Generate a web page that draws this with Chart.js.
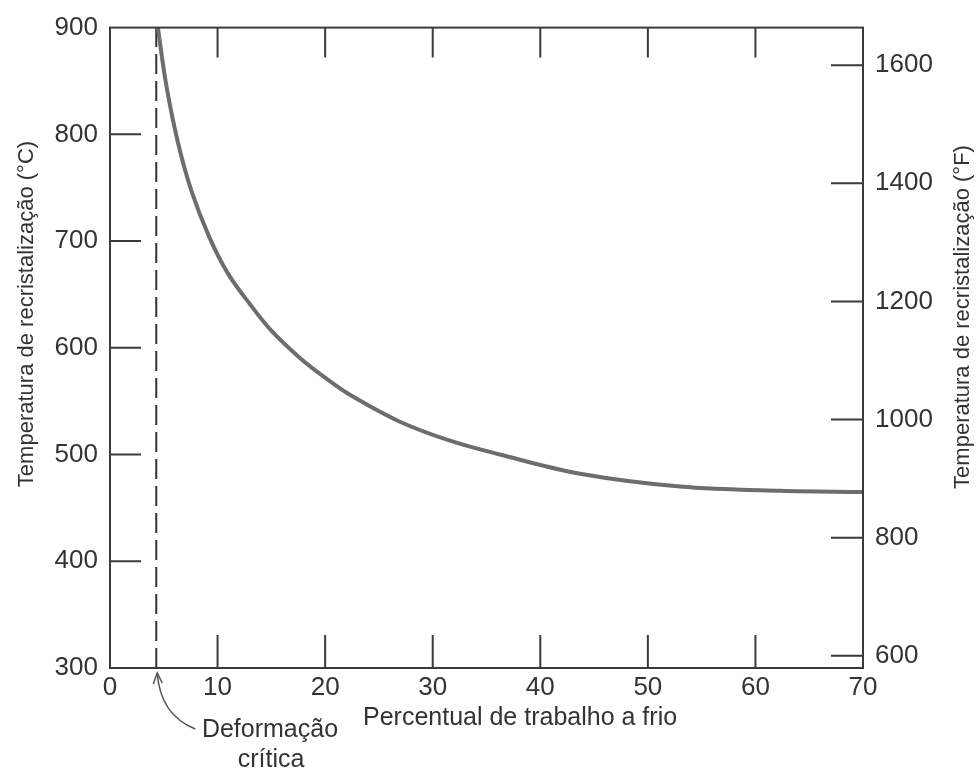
<!DOCTYPE html>
<html lang="pt">

<head>
    <meta charset="UTF-8">
    <title>Temperatura de recristalização</title>
    <script src="https://cdn.jsdelivr.net/npm/chart.js"></script>
    <style>
        body {
            margin: 0;
            background: #fff;
        }

        canvas {
            display: block;
        }
    </style>
</head>

<body>
    <canvas id="recrystChart" width="978" height="771"></canvas>

    <script>
        // values
        const strain = [4.45, 5.2, 6.3, 7.6, 9.26, 11, 13, 15, 17.6, 20, 22.3, 26.9, 31.6, 36.25, 43.7, 53, 62.3, 70];
        const tempC = [900, 848, 793, 746, 703, 669, 641, 616, 591, 572, 556, 531, 513, 500, 482, 470, 466, 465];
        const criticalStrain = 4.3;
        const xTicks = [0, 10, 20, 30, 40, 50, 60, 70];
        const cTicks = [300, 400, 500, 600, 700, 800, 900];
        const fTicks = [600, 800, 1000, 1200, 1400, 1600];

        const FONT = "'Liberation Sans', Arial, sans-serif";
        const INK = '#3a3a3a';

        const decorations = {
            id: 'decorations',
            afterDraw(chart) {
                const ctx = chart.ctx;
                const area = chart.chartArea;
                const x = chart.scales.x, y = chart.scales.y, y2 = chart.scales.y2;
                ctx.save();
                ctx.strokeStyle = INK;
                ctx.lineWidth = 2;
                // frame
                ctx.strokeRect(area.left, area.top, area.right - area.left, area.bottom - area.top);
                // inward ticks
                ctx.beginPath();
                xTicks.slice(1, -1).forEach(v => {
                    const px = x.getPixelForValue(v);
                    ctx.moveTo(px, area.bottom); ctx.lineTo(px, area.bottom - 33);
                    ctx.moveTo(px, area.top); ctx.lineTo(px, area.top + 30);
                });
                cTicks.slice(1, -1).forEach(v => {
                    const py = y.getPixelForValue(v);
                    ctx.moveTo(area.left, py); ctx.lineTo(area.left + 31, py);
                });
                fTicks.forEach(v => {
                    const py = y2.getPixelForValue(v);
                    ctx.moveTo(area.right, py); ctx.lineTo(area.right - 32, py);
                });
                ctx.stroke();

                // axis titles
                ctx.fillStyle = '#333';
                ctx.textBaseline = 'middle';
                ctx.font = '25px ' + FONT;
                ctx.textAlign = 'left';
                ctx.fillText('Percentual de trabalho a frio', 363, 718);

                ctx.font = '22px ' + FONT;
                ctx.textAlign = 'center';
                ctx.save();
                ctx.translate(27, 314);
                ctx.rotate(-Math.PI / 2);
                ctx.fillText('Temperatura de recristalização (°C)', 0, 0);
                ctx.restore();
                ctx.save();
                ctx.translate(963, 317);
                ctx.rotate(-Math.PI / 2);
                ctx.fillText('Temperatura de recristalização (°F)', 0, 0);
                ctx.restore();

                // critical strain note
                const tipX = x.getPixelForValue(criticalStrain) + 1;
                const tipY = area.bottom + 5;
                ctx.strokeStyle = '#555';
                ctx.lineWidth = 1.5;
                ctx.beginPath();
                ctx.moveTo(tipX, tipY);
                ctx.quadraticCurveTo(tipX + 3, tipY + 42, tipX + 38, tipY + 56);
                ctx.stroke();
                ctx.beginPath();
                ctx.moveTo(tipX - 4, tipY + 11);
                ctx.lineTo(tipX, tipY);
                ctx.lineTo(tipX + 5, tipY + 10);
                ctx.stroke();

                ctx.font = '25px ' + FONT;
                ctx.textAlign = 'center';
                ctx.fillText('Deformação', 270, 730);
                ctx.fillText('crítica', 271, 760);
                ctx.restore();
            }
        };

        const tickStyle = pad => ({
            padding: pad,
            color: '#333',
            font: { family: FONT, size: 26 },
            callback: v => String(v)
        });

        new Chart(document.getElementById('recrystChart'), {
            type: 'scatter',
            data: {
                datasets: [{
                    label: 'Temperatura de recristalização',
                    data: strain.map((s, i) => ({ x: s, y: tempC[i] })),
                    showLine: true,
                    borderColor: '#6d6d70',
                    borderWidth: 4,
                    pointRadius: 0,
                    tension: 0.35
                }, {
                    label: 'Deformação crítica',
                    data: [{ x: criticalStrain, y: cTicks[0] }, { x: criticalStrain, y: cTicks[cTicks.length - 1] }],
                    showLine: true,
                    borderColor: '#333',
                    borderWidth: 2,
                    borderDash: [20, 7],
                    pointRadius: 0
                }]
            },
            options: {
                responsive: false,
                animation: false,
                layout: { padding: { top: 25 } },
                plugins: {
                    legend: { display: false },
                    tooltip: { enabled: false }
                },
                scales: {
                    x: {
                        type: 'linear',
                        position: 'bottom',
                        min: 0,
                        max: 70,
                        afterFit: s => { s.height = 103; },
                        afterBuildTicks: s => { s.ticks = xTicks.map(v => ({ value: v })); },
                        grid: { drawOnChartArea: false, drawTicks: false },
                        border: { display: false },
                        ticks: tickStyle(4)
                    },
                    y: {
                        type: 'linear',
                        position: 'left',
                        min: 300,
                        max: 900,
                        afterFit: s => { s.width = 110; },
                        afterBuildTicks: s => { s.ticks = cTicks.map(v => ({ value: v })); },
                        grid: { drawOnChartArea: false, drawTicks: false },
                        border: { display: false },
                        ticks: tickStyle(12)
                    },
                    y2: {
                        type: 'linear',
                        position: 'right',
                        min: 579.3,
                        max: 1663.6,
                        afterFit: s => { s.width = 115; },
                        afterBuildTicks: s => { s.ticks = fTicks.map(v => ({ value: v })); },
                        grid: { drawOnChartArea: false, drawTicks: false },
                        border: { display: false },
                        ticks: tickStyle(12)
                    }
                }
            },
            plugins: [decorations]
        });
    </script>
</body>

</html>
